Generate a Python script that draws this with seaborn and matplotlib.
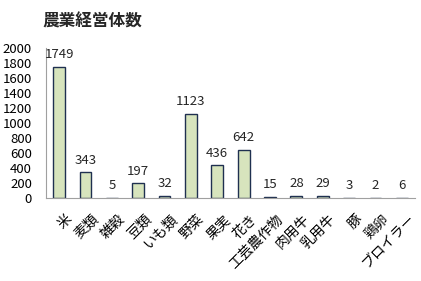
import matplotlib
matplotlib.use("Agg")
import matplotlib.pyplot as plt
import matplotlib.transforms as mtransforms
import seaborn as sns
import pandas as pd

categories = ["米", "麦類", "雑穀", "豆類", "いも類", "野菜", "果実", "花き",
              "工芸農作物", "肉用牛", "乳用牛", "豚", "鶏卵", "ブロイラー"]
values = [1749, 343, 5, 197, 32, 1123, 436, 642, 15, 28, 29, 3, 2, 6]
title = "農業経営体数"

sns.set_theme(style="white")
plt.rcParams['font.family'] = ['Noto Sans CJK JP', 'DejaVu Sans']

df = pd.DataFrame({"cat": categories, "val": values})

fig = plt.figure(figsize=(4.21, 2.81), dpi=100)
ax = fig.add_axes([0.109, 0.295, 0.877, 0.534])
sns.barplot(data=df, x="cat", y="val", color="#d7e4bd", edgecolor="#1f3050",
            linewidth=1.0, width=0.45, saturation=1, ax=ax)
ax.set_xlim(-0.5, len(categories) - 0.5)
ax.set_ylim(0, 2000)
ax.set_yticks(range(0, 2001, 200))
ax.set_xlabel("")
ax.set_ylabel("")
ax.tick_params(axis='y', labelsize=9.5, length=0, pad=10, colors="#000000")
ax.tick_params(axis='x', labelsize=10, length=0, pad=10, colors="#000000")
offset = mtransforms.ScaledTranslation(4 / 72, 0, fig.dpi_scale_trans)
for lab in ax.get_xticklabels():
    lab.set_rotation(45)
    lab.set_ha("right")
    lab.set_va("top")
    lab.set_rotation_mode("anchor")
    lab.set_transform(lab.get_transform() + offset)
for s in ["top", "right"]:
    ax.spines[s].set_visible(False)
ax.spines["left"].set_color("#a0a0a0")
ax.spines["left"].set_linewidth(0.8)
ax.spines["bottom"].set_color("#a0a0a0")
ax.spines["bottom"].set_linewidth(0.8)
for c in ax.containers:
    ax.bar_label(c, labels=[str(v) for v in values], padding=4, fontsize=9.5)

fig.text(42 / 421, 1 - 22 / 281, title, fontsize=12, fontweight="bold", va="center", ha="left")
fig.savefig("out.png", dpi=100)
